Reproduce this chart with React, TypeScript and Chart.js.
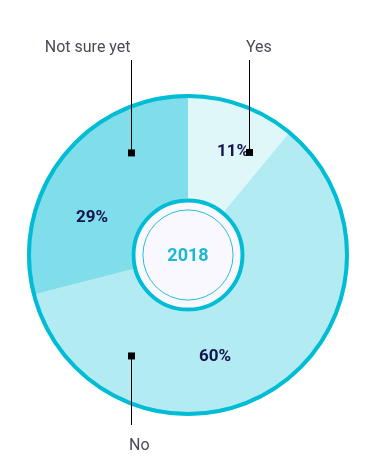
import React, { useEffect, useRef } from "react";
import { Chart, registerables } from "chart.js";

Chart.register(...registerables);

const categories = ["Yes", "No", "Not sure yet"];
const shares = [11, 60, 29];
const centerLabel = "2018";

const sliceColors = ["#e0f7fa", "#b2ebf2", "#80deea"];
const RING = "#00bcd4";
const FONT = "Roboto, 'Noto Sans', sans-serif";

// annotation placement, in units of the pie radius, relative to its centre
const labelOffsets = [
  [0.28, -0.646],
  [0.168, 0.627],
  [-0.596, -0.236],
];
// [anchorX, anchorY, lineEndY, textX, textY, align]
const callouts: [number, number, number, number, number, CanvasTextAlign][] = [
  [0.379, -0.637, -1.211, 0.36, -1.26, "left"],
  [-0.351, 0.627, 1.056, -0.366, 1.211, "left"],
  [-0.351, -0.634, -1.211, -0.357, -1.26, "right"],
];

const decor = {
  id: "decor",
  afterDatasetsDraw(chart: any) {
    const arc = chart.getDatasetMeta(0).data[0];
    if (!arc) return;
    const { x: cx, y: cy, outerRadius: R } = arc;
    const ctx: CanvasRenderingContext2D = chart.ctx;
    ctx.save();
    // outer ring
    ctx.beginPath();
    ctx.arc(cx, cy, R - 2, 0, Math.PI * 2);
    ctx.strokeStyle = RING;
    ctx.lineWidth = 4;
    ctx.stroke();
    // centre disc
    const r1 = 0.351 * R;
    ctx.beginPath();
    ctx.arc(cx, cy, r1, 0, Math.PI * 2);
    ctx.fillStyle = "#f8f8fe";
    ctx.fill();
    ctx.beginPath();
    ctx.arc(cx, cy, r1 - 2, 0, Math.PI * 2);
    ctx.strokeStyle = RING;
    ctx.lineWidth = 4;
    ctx.stroke();
    ctx.beginPath();
    ctx.arc(cx, cy, 0.28 * R, 0, Math.PI * 2);
    ctx.strokeStyle = "#26c0d6";
    ctx.lineWidth = 1;
    ctx.stroke();
    ctx.fillStyle = "#19b9d1";
    ctx.font = `bold 18px ${FONT}`;
    ctx.textAlign = "center";
    ctx.textBaseline = "middle";
    ctx.fillText(centerLabel, cx, cy + 1);
    // percentage labels
    ctx.fillStyle = "#14144e";
    ctx.font = `bold 17px ${FONT}`;
    shares.forEach((v, i) => {
      const [ox, oy] = labelOffsets[i];
      ctx.fillText(`${v}%`, cx + ox * R, cy + oy * R + 1);
    });
    // callouts
    categories.forEach((name, i) => {
      const [ax, ay, ly, tx, ty, align] = callouts[i];
      const x = Math.round(cx + ax * R) + 0.5;
      ctx.beginPath();
      ctx.moveTo(x, cy + ay * R);
      ctx.lineTo(x, cy + ly * R);
      ctx.strokeStyle = "#000";
      ctx.lineWidth = 1;
      ctx.stroke();
      ctx.fillStyle = "#000";
      ctx.fillRect(x - 3.5, cy + ay * R - 3.5, 7, 7);
      ctx.fillStyle = "#4a4a58";
      ctx.font = `16px ${FONT}`;
      ctx.textAlign = align;
      ctx.textBaseline = "alphabetic";
      ctx.fillText(name, cx + tx * R, cy + ty * R);
    });
    ctx.restore();
  },
};

export default function App() {
  const ref = useRef<HTMLCanvasElement>(null);
  useEffect(() => {
    if (!ref.current) return;
    const chart = new Chart(ref.current, {
      type: "pie",
      data: {
        labels: categories,
        datasets: [
          {
            data: shares,
            backgroundColor: sliceColors,
            borderWidth: 0,
            hoverBorderWidth: 0,
            hoverOffset: 0,
            offset: 0,
          },
        ],
      },
      options: {
        animation: false,
        responsive: true,
        maintainAspectRatio: false,
        layout: { padding: { top: 86, bottom: 42, left: 1, right: 0 } },
        plugins: {
          legend: { display: false },
          tooltip: { enabled: false },
        },
        events: [],
      },
      plugins: [decor],
    });
    return () => chart.destroy();
  }, []);
  return (
    <div style={{ position: "relative", width: "100%", height: 450 }}>
      <canvas ref={ref} />
    </div>
  );
}
